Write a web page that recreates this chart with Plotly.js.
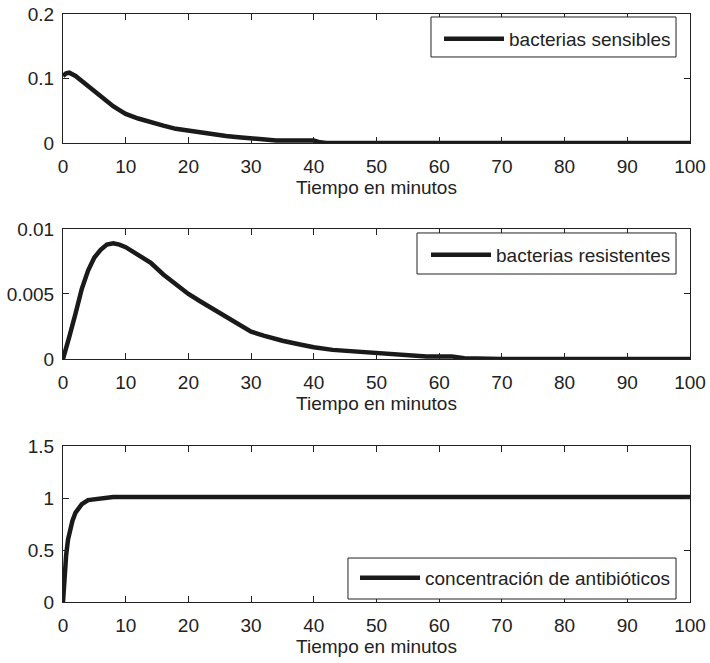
<!DOCTYPE html>
<html>
<head>
<meta charset="utf-8">
<script src="https://cdn.plot.ly/plotly-3.0.1.min.js"></script>
<style>html,body{margin:0;padding:0;background:#fff;}#chart{width:710px;height:663px;}</style>
</head>
<body>
<div id="chart"></div>
<script>
// ---- data ----
const tSens = [0,0.5,1,1.5,2,3,4,5,6,7,8,9,10,12,14,16,18,20,22,24,26,28,30,32,34,36,38,40,41,42,50,60,70,80,90,100];
const sensibles = [0.104,0.108,0.109,0.107,0.104,0.096,0.088,0.079,0.071,0.064,0.057,0.051,0.045,0.038,0.032,0.027,0.022,0.019,0.016,0.013,0.011,0.009,0.007,0.005,0.004,0.004,0.004,0.004,0.001,0,0,0,0,0,0,0];

const tRes = [0,0.5,1,2,3,4,5,6,7,8,9,10,12,14,16,18,20,22,24,26,28,30,32,35,38,40,43,46,50,54,58,62,64,70,80,90,100];
const resistentes = [0,0.0008,0.0017,0.0035,0.0054,0.0068,0.0078,0.0084,0.0088,0.0089,0.0088,0.0086,0.0080,0.0074,0.0065,0.0057,0.0050,0.0044,0.0038,0.0032,0.0026,0.0021,0.0018,0.0014,0.0011,0.0009,0.0007,0.0006,0.0004,0.00025,0.0002,0.0002,0.00005,0,0,0,0];

const tConc = [0,0.2,0.5,0.8,1,1.5,2,2.5,3,4,5,6,6.5,7,8,10,20,30,40,50,60,70,80,90,100];
const concentracion = [0,0.25,0.45,0.6,0.66,0.78,0.86,0.91,0.94,0.98,0.99,0.995,0.995,1.01,1.01,1.01,1.01,1.01,1.01,1.01,1.01,1.01,1.01,1.01,1.01];

const seriesNames = ['bacterias sensibles','bacterias resistentes','concentración de antibióticos'];
const xTicks = [0,10,20,30,40,50,60,70,80,90,100];
const yTicksTop = [0,0.1,0.2];
const yTicksMid = [0,0.005,0.01];
const yTicksBot = [0,0.5,1,1.5];
const xTitle = 'Tiempo en minutos';

// ---- styles ----
const ink = '#222222';
const FONT = '"Liberation Sans", Arial, Helvetica, sans-serif';
const lineStyle = {color:'#1a1a1a', width:4.5};

const traces = [
  {x:tSens, y:sensibles, name:seriesNames[0], type:'scatter', mode:'lines', line:lineStyle, xaxis:'x', yaxis:'y', legend:'legend'},
  {x:tRes, y:resistentes, name:seriesNames[1], type:'scatter', mode:'lines', line:lineStyle, xaxis:'x2', yaxis:'y2', legend:'legend2'},
  {x:tConc, y:concentracion, name:seriesNames[2], type:'scatter', mode:'lines', line:lineStyle, xaxis:'x3', yaxis:'y3', legend:'legend3'}
];

function xAx(anchor){
  return {anchor:anchor, domain:[0,1], range:[0,100], tickvals:xTicks, ticktext:xTicks.map(String),
    showline:true, mirror:'ticks', linecolor:ink, linewidth:1, ticks:'inside', ticklen:6, tickcolor:ink,
    showgrid:false, zeroline:false, tickfont:{size:19,color:ink}, ticklabelstandoff:6,
    title:{text:xTitle, font:{size:19,color:ink}, standoff:4}};
}
function yAx(anchor, dom, rng, tv){
  return {anchor:anchor, domain:dom, range:rng, tickvals:tv, ticktext:tv.map(String),
    showline:true, mirror:'ticks', linecolor:ink, linewidth:1, ticks:'inside', ticklen:6, tickcolor:ink,
    showgrid:false, zeroline:false, tickfont:{size:19,color:ink}, ticklabelstandoff:4};
}
const legBase = {borderwidth:0, bgcolor:'rgba(0,0,0,0)', font:{size:19,color:ink,family:FONT}, itemwidth:60, xanchor:'right', x:0.9777, yanchor:'middle'};

function box(x0,x1,y0,y1){
  return {type:'rect', xref:'paper', yref:'paper', x0:x0, x1:x1, y0:y0, y1:y1,
    line:{color:ink, width:1}, fillcolor:'#ffffff', layer:'above'};
}

const layout = {
  width:710, height:663,
  margin:{l:63, r:20, t:14, b:61},
  paper_bgcolor:'#ffffff', plot_bgcolor:'#ffffff',
  font:{family:FONT, color:ink, size:19},
  showlegend:true,
  xaxis: xAx('y'),
  yaxis: yAx('x', [0.7806,1.0], [0,0.2], yTicksTop),
  xaxis2: xAx('y2'),
  yaxis2: yAx('x2', [0.4133,0.6344], [0,0.01], yTicksMid),
  xaxis3: xAx('y3'),
  yaxis3: yAx('x3', [0,0.2653], [0,1.5], yTicksBot),
  legend: Object.assign({}, legBase, {y:0.9575}),
  legend2: Object.assign({}, legBase, {y:0.5901}),
  legend3: Object.assign({}, legBase, {y:0.0408}),
  shapes: [
    box(0.5869,0.9777,0.9269,0.9949),
    box(0.5646,0.9777,0.5578,0.6276),
    box(0.4545,0.9777,0.0051,0.0748)
  ]
};

Plotly.newPlot('chart', traces, layout, {displayModeBar:false, staticPlot:true});
</script>
</body>
</html>
